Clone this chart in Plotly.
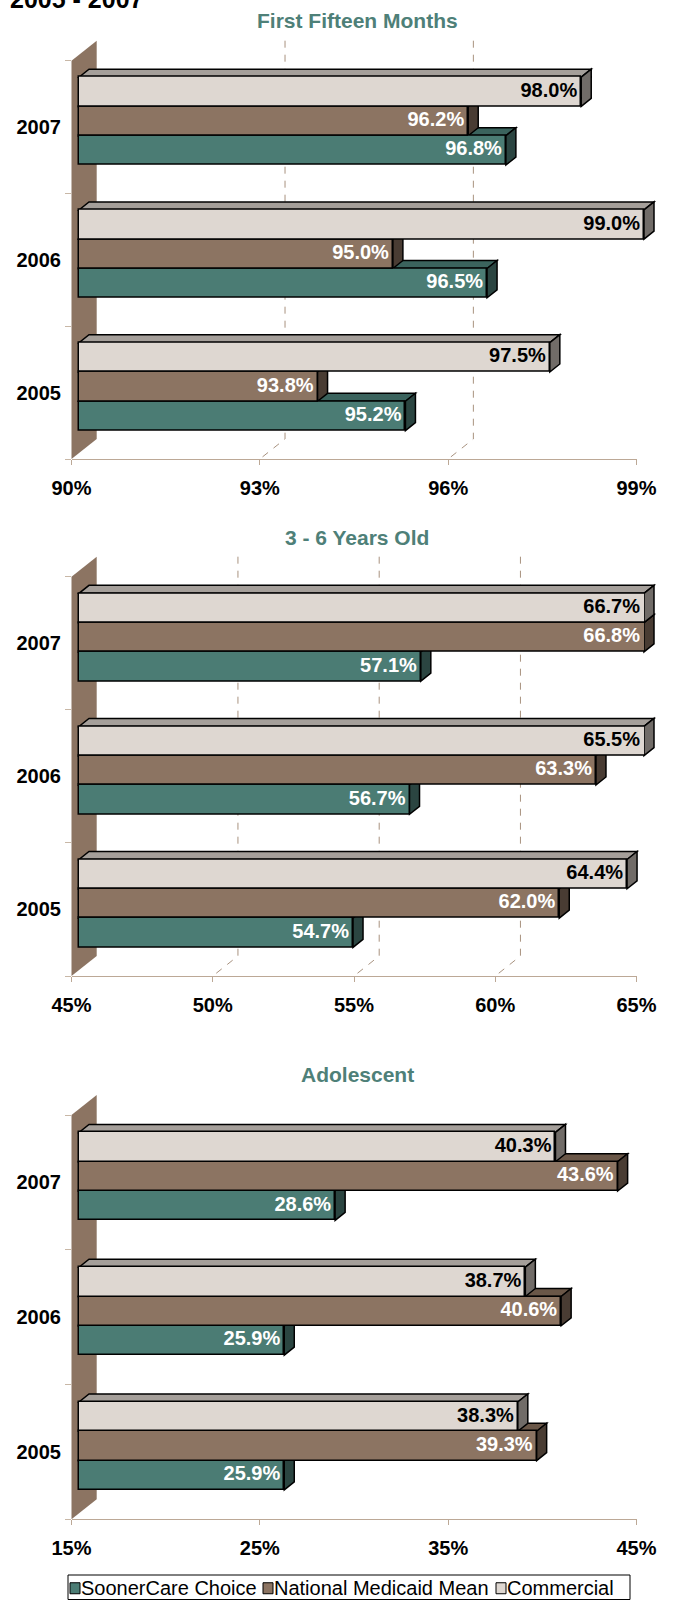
import plotly.graph_objects as go

FIG_W, FIG_H = 680, 1600
FONT = "Liberation Sans, Arial, Helvetica, sans-serif"

# ---------------------------------------------------------------- data
years = ["2007", "2006", "2005"]
series_names = ["SoonerCare Choice", "National Medicaid Mean", "Commercial"]

fifteen_months_soonercare = [96.8, 96.5, 95.2]
fifteen_months_medicaid = [96.2, 95.0, 93.8]
fifteen_months_commercial = [98.0, 99.0, 97.5]
fifteen_months_ticks = [90, 93, 96, 99]

three_to_six_soonercare = [57.1, 56.7, 54.7]
three_to_six_medicaid = [66.8, 63.3, 62.0]
three_to_six_commercial = [66.7, 65.5, 64.4]
three_to_six_ticks = [45, 50, 55, 60, 65]

adolescent_soonercare = [28.6, 25.9, 25.9]
adolescent_medicaid = [43.6, 40.6, 39.3]
adolescent_commercial = [40.3, 38.7, 38.3]
adolescent_ticks = [15, 25, 35, 45]

# ---------------------------------------------------------------- styling
# (front face, top face, side face) per series
series_colors = [
    ("#4B7C74", "#3B635D", "#2B4541"),
    ("#8C7462", "#6A5748", "#493C33"),
    ("#DED7D1", "#A59F9A", "#716C68"),
]
label_colors = ["white", "white", "black"]
WALL_COLOR = "#8C7462"
GRID_COLOR = "#A8927F"
AXIS_COLOR = "#BCA896"
TITLE_COLOR = "#4E8078"

panels = [
    dict(title="First Fifteen Months",
         values=[fifteen_months_soonercare, fifteen_months_medicaid, fifteen_months_commercial],
         ticks=fifteen_months_ticks, gridlines=True, top=60.7, floor=459.0, title_y=20.5),
    dict(title="3 - 6 Years Old",
         values=[three_to_six_soonercare, three_to_six_medicaid, three_to_six_commercial],
         ticks=three_to_six_ticks, gridlines=True, top=576.7, floor=976.0, title_y=537.0),
    dict(title="Adolescent",
         values=[adolescent_soonercare, adolescent_medicaid, adolescent_commercial],
         ticks=adolescent_ticks, gridlines=False, top=1115.0, floor=1519.3, title_y=1074.0),
]

# 3-D geometry, in pixels
FLOOR_X0, FLOOR_X1 = 71.5, 636.5      # first / last tick on the front floor edge
BAR_OFF = (7.5, -6.0)                 # front face of the bars relative to the floor edge
BAR_DEPTH = (10.0, -8.0)              # thickness of each bar
BACK_OFF = (25.2, -20.0)              # back wall relative to the floor edge
BAR_H = 29.3
BAR_DOMAIN_X0 = 50.0

# legend box (pixels) and where each entry starts
LEGEND_BOX = (68, 1575, 630, 1599.5)
LEGEND_ITEM_X = [69, 262, 495]
LEGEND_FONT_SIZE = 20


def fx(p):
    return p / FIG_W


def fy(p):
    return 1 - p / FIG_H


def axis_key(letter, i):
    return f"{letter}axis" if i == 1 else f"{letter}axis{i}"


def axis_ref(letter, i):
    return letter if i == 1 else f"{letter}{i}"


def poly(points, close=True):
    d = "M " + " L ".join(f"{x:.5f},{y:.3f}" for x, y in points)
    return d + (" Z" if close else "")


fig = go.Figure()
shapes = []
annotations = []
layout_axes = {}

for n, p in enumerate(panels):
    face_i, bar_i, floor_i, y_i = 3 * n + 1, 3 * n + 2, 3 * n + 3, n + 1
    xf, xb, xl, ya = (axis_ref("x", face_i), axis_ref("x", bar_i),
                      axis_ref("x", floor_i), axis_ref("y", y_i))
    ticks = p["ticks"]
    lo, hi = ticks[0], ticks[-1]
    s = (FLOOR_X1 - FLOOR_X0) / (hi - lo)          # px per percentage point
    bx0 = FLOOR_X0 + BAR_OFF[0]
    bx1 = bx0 + (hi - lo) * s
    top, floor = p["top"], p["floor"]
    dom_top = top - 30

    # axis used for the 3-D decorations (spans the whole width, same scale as bars)
    layout_axes[axis_key("x", face_i)] = dict(
        domain=[0, 1], range=[lo - bx0 / s, lo + (FIG_W - bx0) / s], anchor=ya,
        visible=False, fixedrange=True, automargin=False)
    # axis the bars are drawn on: ends exactly at the top tick so longer bars are cut
    layout_axes[axis_key("x", bar_i)] = dict(
        domain=[fx(BAR_DOMAIN_X0), fx(bx1)], range=[lo - (bx0 - BAR_DOMAIN_X0) / s, hi],
        anchor=ya, visible=False, fixedrange=True, automargin=False)
    # visible percentage axis along the front edge of the floor
    layout_axes[axis_key("x", floor_i)] = dict(
        domain=[fx(FLOOR_X0), fx(FLOOR_X1)], range=[lo, hi], anchor=ya,
        tickmode="array", tickvals=ticks, ticktext=[f"{t}%" for t in ticks],
        ticks="outside", ticklen=5, tickwidth=1, tickcolor=AXIS_COLOR,
        showline=True, linecolor=AXIS_COLOR, linewidth=1,
        showgrid=False, zeroline=False, fixedrange=True, automargin=False,
        tickfont=dict(family=FONT, size=20, color="black", weight="bold"),
        ticklabelstandoff=6)
    # invisible anchor points so the floor axis gets its own subplot
    fig.add_trace(go.Scatter(
        x=ticks, y=[floor] * len(ticks), mode="markers", marker=dict(opacity=0),
        xaxis=xl, yaxis=ya, showlegend=False, hoverinfo="skip"))

    slot = (floor - top) / 3
    slot_centers = [top + slot * (i + 0.5) for i in range(3)]
    layout_axes[axis_key("y", y_i)] = dict(
        domain=[fy(floor), fy(dom_top)], range=[floor, dom_top],
        anchor="free", position=fx(FLOOR_X0 - 0.5), side="left",
        tickmode="array", tickvals=slot_centers, ticktext=years, ticks="",
        minor=dict(tickmode="array", tickvals=[top + slot * i for i in range(4)],
                   ticks="outside", ticklen=6, tickwidth=1, tickcolor="#C8B7A6",
                   showgrid=False),
        showline=False, showgrid=False, zeroline=False, fixedrange=True,
        automargin=False,
        tickfont=dict(family=FONT, size=20, color="black", weight="bold"),
        ticklabelstandoff=10)

    def front(v):
        return v - BAR_OFF[0] / s

    def back(v):
        return v + (BACK_OFF[0] - BAR_OFF[0]) / s

    # side wall at the start of the value axis
    shapes.append(dict(
        type="path", xref=xf, yref=ya, layer="below",
        path=poly([(front(lo), top), (back(lo), top + BACK_OFF[1]),
                   (back(lo), floor + BACK_OFF[1]), (front(lo), floor)]),
        fillcolor=WALL_COLOR, line=dict(width=0)))

    # dashed gridlines on the back wall, bending down across the floor
    if p["gridlines"]:
        for g in ticks[1:-1]:
            shapes.append(dict(
                type="path", xref=xf, yref=ya, layer="below",
                path=poly([(back(g), top + BACK_OFF[1]), (back(g), floor + BACK_OFF[1]),
                           (front(g), floor)], close=False),
                line=dict(color=GRID_COLOR, width=1, dash="7px,7px")))

    ddx, ddy = BAR_DEPTH[0] / s, BAR_DEPTH[1]
    group_centers = [c + BAR_OFF[1] for c in slot_centers]
    offsets = [BAR_H, 0.0, -BAR_H]     # SoonerCare bottom, Commercial on top

    # top and side faces, lowest bar first so upper bars hide them
    for c in range(3):
        for k in range(3):
            v = min(p["values"][k][c], hi)
            yt = group_centers[c] + offsets[k] - BAR_H / 2
            _, top_col, side_col = series_colors[k]
            shapes.append(dict(
                type="path", xref=xf, yref=ya, layer="below",
                path=poly([(lo, yt), (v, yt), (v + ddx, yt + ddy), (lo + ddx, yt + ddy)]),
                fillcolor=top_col, line=dict(color="black", width=1.5)))
            shapes.append(dict(
                type="path", xref=xf, yref=ya, layer="below",
                path=poly([(v, yt + BAR_H), (v, yt), (v + ddx, yt + ddy),
                           (v + ddx, yt + BAR_H + ddy)]),
                fillcolor=side_col, line=dict(color="black", width=1.5)))

    # front faces of the bars
    for k in range(3):
        vals = p["values"][k]
        fig.add_trace(go.Bar(
            name=series_names[k], orientation="h",
            y=[gc + offsets[k] for gc in group_centers],
            x=[v - lo for v in vals], base=lo, width=BAR_H,
            marker=dict(color=series_colors[k][0], line=dict(color="black", width=1.5)),
            xaxis=xb, yaxis=ya, showlegend=False, hoverinfo="skip"))

    # value labels at the visible end of each bar
    for k in range(3):
        vals = p["values"][k]
        fig.add_trace(go.Scatter(
            mode="text",
            x=[min(v, hi) - 4 / s for v in vals],
            y=[gc + offsets[k] for gc in group_centers],
            text=[f"{v:.1f}%" for v in vals], textposition="middle left",
            textfont=dict(family=FONT, size=20, color=label_colors[k], weight="bold"),
            cliponaxis=False, xaxis=xb, yaxis=ya, showlegend=False, hoverinfo="skip"))

    annotations.append(dict(
        text=p["title"], xref="paper", yref="paper", x=fx(357), y=fy(p["title_y"]),
        xanchor="center", yanchor="middle", showarrow=False,
        font=dict(family=FONT, size=21, color=TITLE_COLOR, weight="bold")))

annotations.append(dict(
    text="2005 - 2007", xref="paper", yref="paper", x=fx(8), y=fy(15),
    xanchor="left", yanchor="bottom", showarrow=False,
    font=dict(family=FONT, size=25, color="black", weight="bold")))

# legend: framed row of square keys with the series names
lx0, ly0, lx1, ly1 = LEGEND_BOX
shapes.append(dict(type="rect", xref="paper", yref="paper",
                   x0=fx(lx0), x1=fx(lx1), y0=fy(ly1), y1=fy(ly0),
                   line=dict(color="black", width=1), fillcolor="white", layer="above"))
ly_mid = (ly0 + ly1) / 2 + 1
for k, name in enumerate(series_names):
    sx = LEGEND_ITEM_X[k]
    shapes.append(dict(type="rect", xref="paper", yref="paper",
                       x0=fx(sx + 1), x1=fx(sx + 11), y0=fy(ly_mid + 5.5), y1=fy(ly_mid - 5.5),
                       line=dict(color="black", width=1), fillcolor=series_colors[k][0],
                       layer="above"))
    annotations.append(dict(
        text=name, xref="paper", yref="paper", x=fx(sx + 12), y=fy(ly_mid),
        xanchor="left", yanchor="middle", showarrow=False, borderpad=0, xshift=-1,
        font=dict(family=FONT, size=LEGEND_FONT_SIZE, color="black")))

fig.update_layout(
    width=FIG_W, height=FIG_H,
    margin=dict(l=0, r=0, t=0, b=0, pad=0, autoexpand=False),
    paper_bgcolor="white", plot_bgcolor="rgba(0,0,0,0)",
    barmode="overlay", bargap=0,
    shapes=shapes, annotations=annotations,
    showlegend=False,
    **layout_axes,
)

fig.write_html("out.html")
